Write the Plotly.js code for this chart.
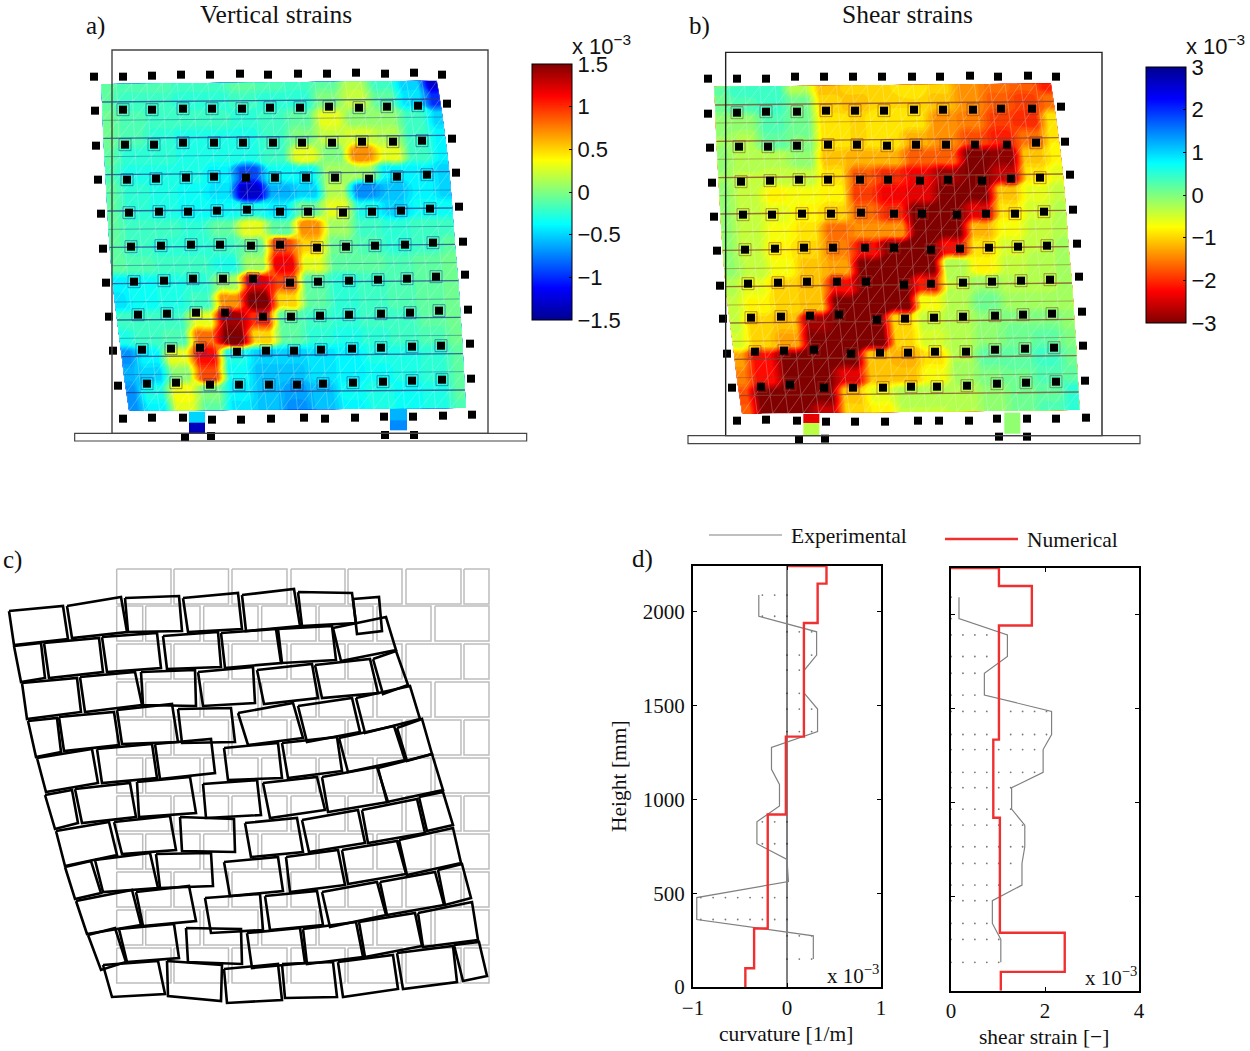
<!DOCTYPE html>
<html><head><meta charset="utf-8">
<script src="https://cdn.plot.ly/plotly-3.0.1.min.js"></script>
<style>html,body{margin:0;padding:0;background:#fff}#p{width:1250px;height:1051px}</style>
</head><body><div id="p"></div>
<script>
// ---------- strain fields (rows bottom-going, 13 nodes per row) ----------
const verticalStrain = [
[-0.1,-0.15,-0.15,-0.2,-0.2,-0.1,-0.15,-0.2,-0.1,0.15,-0.2,-0.5,-1.3],
[-0.1,-0.2,-0.2,-0.25,-0.25,-0.2,-0.25,-0.25,0,0.2,-0.1,-0.45,-1.0],
[-0.05,-0.15,-0.2,-0.2,-0.2,-0.25,-0.2,-0.1,0.3,0.05,0.05,-0.2,-0.5],
[-0.05,-0.15,-0.25,-0.3,-0.3,-0.3,-0.2,0.0,0.2,0.25,0.15,-0.2,-0.4],
[-0.1,-0.25,-0.25,-0.3,-0.3,-0.3,-0.2,0.3,0,0.7,0.3,-0.2,-0.4],
[-0.15,-0.3,-0.3,-0.3,-0.4,-0.9,-0.35,-0.35,0.1,0.1,-0.4,-0.4,-0.5],
[-0.1,-0.25,-0.3,-0.35,-0.45,-1.3,-0.6,-0.5,0.15,-0.7,-0.55,-0.4,-0.5],
[-0.1,-0.25,-0.3,-0.35,-0.35,-0.3,-0.4,-0.05,0.3,-0.3,-0.5,-0.35,-0.35],
[-0.1,-0.2,-0.2,-0.25,-0.1,0.3,-0.1,0.7,0.1,-0.2,-0.25,-0.2,-0.2],
[-0.1,-0.2,-0.25,-0.25,-0.2,-0.05,0.9,0.5,-0.05,-0.15,-0.25,-0.2,-0.1],
[-0.1,-0.15,-0.2,-0.2,-0.3,0.1,1.15,0.3,-0.1,-0.1,-0.15,-0.1,-0.05],
[-0.4,-0.35,-0.3,-0.25,0.1,1.2,0.9,-0.1,-0.25,-0.2,-0.15,-0.1,-0.05],
[-0.45,-0.35,-0.3,-0.2,0.7,1.5,0.5,-0.1,-0.25,-0.2,-0.15,-0.1,-0.05],
[-0.2,-0.2,-0.2,0.3,1.4,1.0,-0.1,-0.2,-0.25,-0.2,-0.2,-0.1,-0.05],
[-0.3,-0.2,-0.15,0.8,1.5,0.5,-0.1,-0.25,-0.3,-0.25,-0.2,-0.15,-0.05],
[-0.7,-0.4,0.3,1.1,-0.3,-0.5,-0.5,-0.45,-0.4,-0.3,-0.3,-0.25,-0.1],
[-0.6,-0.5,0.05,0.9,-0.35,-0.55,-0.55,-0.45,-0.4,-0.35,-0.3,-0.25,-0.1],
[-0.7,-0.3,0.35,0.0,-0.4,-0.55,-0.65,-0.55,-0.35,-0.3,-0.35,-0.3,-0.1],
[-0.7,-0.4,0.3,-0.1,-0.45,-0.55,-0.7,-0.55,-0.4,-0.3,-0.35,-0.3,-0.15]];
const shearStrain = [
[0.2,0.45,0.45,-0.3,-1.1,-1.0,-0.95,-0.85,-1.0,-1.4,-1.6,-1.7,-2.1],
[0.1,0.3,0.4,0.1,-1.0,-1.1,-0.95,-0.95,-1.1,-1.4,-1.7,-1.9,-1.6],
[-0.1,-0.1,0.3,0.1,-0.9,-0.95,-0.85,-0.9,-1.4,-1.5,-1.9,-2,-0.9],
[-0.15,-0.25,0.2,0.05,-0.9,-0.95,-0.85,-1.2,-1.4,-1.8,-2.1,-1.6,-0.85],
[-0.1,-0.3,-0.3,-0.1,-1.1,-1.2,-1.2,-1.7,-1.7,-3,-2.9,-1.1,-0.8],
[-0.15,-0.35,-0.4,-0.4,-0.9,-1.7,-2,-2.3,-2.8,-3,-2.6,-0.9,-0.6],
[-0.1,-0.4,-0.75,-0.7,-0.8,-1.9,-2.3,-2.4,-3,-3,-1.1,-0.6,-0.4],
[-0.1,-0.4,-0.6,-0.8,-1.0,-1.6,-2,-3,-3,-2.4,-0.9,-0.5,-0.3],
[-0.1,-0.4,-0.7,-0.9,-1.6,-1.4,-1.4,-3,-3,-1.2,-0.7,-0.4,-0.3],
[-0.1,-0.4,-0.8,-1.0,-1.5,-2.2,-3,-3,-2.2,-0.9,-0.5,-0.35,-0.2],
[-0.1,-0.35,-0.7,-1.1,-1.3,-3,-3,-3,-0.25,-0.8,-0.4,-0.3,-0.2],
[-0.3,-0.6,-1.0,-1.1,-2.2,-3,-3,-2.1,-0.35,-0.15,-0.3,-0.3,-0.2],
[-0.4,-0.75,-1.0,-1.1,-3,-3,-3,-0.7,-0.3,0.1,-0.2,-0.2,-0.2],
[-0.4,-1.0,-1.1,-2.8,-3,-3,-1.0,-0.4,-0.3,-0.1,0.05,0.05,-0.1],
[-0.5,-1.0,-1.3,-3,-3,-3,-1.0,-0.5,-0.3,-0.05,0.1,0.2,0],
[-1.3,-2.2,-3,-3,-3,-1.1,-1.2,-0.9,-0.25,0.2,0.2,0.4,0.1],
[-1.5,-2.2,-3,-3,-2.4,-1.1,-1.1,-0.7,-0.2,0.05,0.15,0.3,0.2],
[-1.8,-3,-3,-3,-1.1,-0.6,-0.3,-0.3,-0.3,-0.1,0.1,0.2,0.5],
[-1.7,-3,-3,-2.6,-1.0,-0.8,-0.35,-0.35,-0.3,-0.1,0.1,0.3,0.5]];

// wall outline of each strain map
const aLeftX=[93,96,98,100,103,106,109,112,115,119,123,128,134,141,148,155,161,169,177];
const aRightX=[1101,1110,1118,1125,1132,1138,1143,1147,1151,1155,1160,1165,1169,1172,1176,1179,1182,1185,1188];
const aLeftY=[132,186,241,295,350,404,459,513,568,622,677,731,786,840,895,950,1004,1058,1113];
const aRightY=[122,177,231,286,340,395,450,504,559,613,668,722,777,832,886,941,995,1050,1104];
const bLeftX=[87,90,92,94,97,100,103,106,109,113,117,122,128,135,142,149,155,163,171];
const bRightX=[1098,1106,1114,1121,1128,1134,1139,1143,1147,1151,1156,1161,1165,1168,1172,1175,1178,1181,1184];
const bLeftY=[140,195,249,304,358,413,467,522,576,631,686,740,795,849,904,958,1013,1067,1122];
const bRightY=[130,184,239,293,348,402,457,511,566,620,674,729,783,838,892,947,1001,1056,1110];

// black target markers
const aMarkX=[72,159,246,333,420,510,594,684,771,858,945,1032,1116, 75,159,246,339,426,516,600,690,777,867,951,1044,1131, 78,165,252,339,432,519,609,696,786,876,969,1056,1146, 84,171,258,348,432,528,615,708,795,897,981,1071,1158, 93,177,267,354,441,531,630,714,819,906,993,1080,1167, 99,183,273,363,450,543,630,741,828,915,1005,1089,1179, 108,192,282,369,459,549,660,744,837,924,1011,1098,1185, 117,204,291,378,465,579,663,750,837,933,1020,1107,1194, 129,216,303,390,501,588,672,753,846,933,1026,1113,1200, 144,231,318,420,507,597,681,759,849,939,1026,1116,1203, 159,246,339,426,513,603,702,765,855,942,1029,1119,1206, 345,423,945,1032];
const aMarkY=[110,110,107,104,104,101,104,101,101,98,101,98,104, 212,209,209,206,206,206,203,203,200,203,200,197,191, 317,314,314,308,308,308,308,308,308,305,305,302,296, 419,419,416,413,410,413,413,413,413,416,410,404,398, 521,518,515,515,512,509,515,515,518,515,512,506,500, 626,620,617,614,614,617,614,623,620,617,614,608,605, 728,725,722,716,716,716,728,725,722,719,716,710,704, 830,824,821,818,818,830,830,827,824,821,818,812,809, 932,929,926,923,935,932,932,929,926,923,920,917,911, 1037,1031,1028,1034,1034,1034,1034,1031,1028,1025,1022,1019,1016, 1136,1133,1133,1139,1139,1136,1133,1136,1133,1130,1130,1127,1124, 1191,1188,1185,1185];
const bMarkX=[69,156,243,330,417,504,591,681,765,855,939,1029,1113, 69,156,243,336,423,510,597,687,774,864,948,1041,1128, 75,162,249,336,429,516,606,693,783,870,966,1053,1140, 81,168,255,342,429,525,609,705,789,891,978,1065,1155, 87,174,261,351,438,528,627,711,816,903,990,1077,1164, 96,180,270,357,444,540,627,738,825,912,999,1086,1176, 105,189,279,366,456,543,657,738,834,921,1008,1095,1182, 114,198,288,375,462,576,660,747,834,930,1014,1101,1191, 126,210,297,387,498,585,669,750,843,930,1020,1107,1194, 141,228,315,417,504,594,678,756,846,936,1023,1113,1200, 156,243,336,423,510,600,699,762,852,936,1026,1113,1203, 342,420,942,1026];
const bMarkY=[116,116,116,110,110,110,110,110,110,107,110,107,110, 221,218,215,215,212,212,212,209,209,209,206,206,200, 323,320,320,317,314,314,317,314,314,314,314,308,305, 428,425,422,419,419,419,419,422,419,422,416,413,404, 530,524,524,521,521,518,521,521,524,521,521,515,509, 632,629,626,623,623,623,623,629,626,623,620,617,611, 737,731,728,725,725,725,734,731,728,725,722,719,710, 836,833,830,827,824,839,836,833,830,827,824,821,815, 941,935,932,929,941,938,938,935,935,929,926,923,917, 1043,1040,1034,1043,1043,1043,1040,1040,1037,1031,1028,1025,1022, 1142,1139,1142,1145,1145,1145,1142,1142,1142,1136,1136,1136,1133, 1199,1196,1190,1190];

// support stubs: x edges, y edges, strain
const aStubs=[{x:[357,405],y:[1115,1148,1180],z:[[-0.5],[-1.35]]},{x:[960,1010],y:[1105,1140,1172],z:[[-0.6],[-0.72]]}];
const bStubs=[{x:[355,402],y:[1122,1150,1185],z:[[-2.4],[-0.35]]},{x:[958,1006],y:[1118,1150,1180],z:[[-0.1],[-0.1]]}];

// panel c: undeformed courses
const grayRowTop=[569,606,644,682,720,758,796,834,872,910,948];
const grayOddX=[[116.7,171],[174,228.5],[232,287],[291,345],[348,402],[406,461],[464,489]];
const grayEvenX=[[116.7,142.7],[145.7,200],[203.7,258],[261.7,316],[319,373],[377,431],[435,489]];
const grayBrickH=35;
// panel c: deformed bricks, TLx,TLy,TRx,TRy,BRx,BRy,BLx,BLy
const course1=[[9,611,63,606,68,639,14,645],[67,606,121,597,127,632,72,638],[125,598,179,596,182,631,128,632],[183,598,238,593,242,629,188,632],[242,595,294,589,300,626,246,631],[298,592,352,593,356,623,302,626],[353,599,379,597,382,631,357,634]];
const course2=[[14,646,41,643,45,678,21,682],[44,643,99,638,103,672,49,678],[102,637,157,633,161,668,107,672],[163,636,218,632,221,667,167,669],[221,633,276,629,281,663,225,668],[278,629,332,626,336,660,282,663],[333,628,386,617,396,650,341,661]];
const course3=[[22,683,77,678,81,712,27,719],[80,677,135,672,142,705,85,712],[141,672,195,670,196,706,143,705],[198,672,253,667,255,703,203,706],[257,670,312,664,318,698,264,704],[315,665,370,659,378,693,322,698],[373,659,396,651,408,685,383,694]];
const course4=[[28,721,57,718,61,752,36,757],[59,717,114,712,119,745,64,751],[117,710,172,704,178,742,122,744],[178,709,231,708,235,742,182,743],[238,713,293,703,303,738,248,745],[298,706,352,698,360,732,307,742],[356,698,410,686,420,719,365,733]];
const course5=[[37,758,92,749,98,783,46,792],[97,749,152,744,157,778,102,783],[155,744,211,739,215,773,160,779],[224,748,278,743,282,778,228,780],[282,743,337,737,342,771,288,778],[339,738,394,726,405,760,348,772],[397,728,422,719,432,754,407,761]];
const course6=[[45,795,72,790,78,823,55,829],[75,789,130,783,136,817,82,823],[137,782,190,777,196,813,139,817],[203,784,257,780,261,815,206,818],[263,783,317,777,325,810,270,818],[322,777,377,767,388,802,328,812],[378,768,432,754,443,790,387,802]];
const course7=[[56,831,109,822,117,855,65,866],[114,822,170,816,176,850,122,854],[180,817,234,819,235,852,182,851],[245,823,297,818,303,852,251,857],[302,820,358,810,365,843,309,852],[362,810,417,799,425,833,368,843],[419,797,443,792,453,825,427,831]];
const course8=[[65,867,91,861,101,893,75,899],[95,860,150,853,158,888,103,892],[156,854,211,853,213,886,160,888],[224,862,278,857,283,891,230,896],[286,857,338,850,345,885,290,892],[342,850,397,841,406,874,348,884],[399,840,453,828,461,863,407,875]];
const course9=[[76,901,132,890,141,925,87,934],[136,892,189,886,196,921,143,926],[205,898,260,894,263,930,211,933],[265,896,317,891,323,925,270,930],[322,892,377,882,386,915,330,927],[380,882,435,872,444,905,387,915],[438,870,462,864,471,898,445,905]];
const course10=[[88,935,115,928,126,962,101,970],[119,929,174,924,179,958,127,962],[186,928,241,929,242,964,188,962],[247,933,300,928,305,963,252,968],[303,929,356,922,363,957,307,964],[359,922,415,913,422,946,365,957],[418,913,472,902,478,940,423,947]];
const course11=[[103,965,158,961,165,994,112,997],[167,961,222,965,221,1001,168,996],[224,969,278,964,282,1000,227,1003],[282,964,333,962,337,997,285,998],[338,962,393,955,398,989,343,997],[397,953,453,946,457,982,403,989],[454,945,479,942,487,976,463,981]];
const courses=[course1,course2,course3,course4,course5,course6,course7,course8,course9,course10,course11];

// panel d: curvature
const curvExpX=[-0.30,-0.30,0.315,0.315,0.185,0.185,0.325,0.325,-0.165,-0.165,-0.08,-0.08,-0.32,-0.32,0,0.015,-0.96,-0.96,0.28,0.28];
const curvExpH=[2090,1977,1894,1770,1690,1566,1482,1362,1277,1161,1080,965,881,764,680,562,477,360,273,149];
const curvNumX=[0,0.42,0.42,0.326,0.326,0.18,0.18,-0.012,-0.012,-0.205,-0.205,-0.35,-0.35,-0.443,-0.443];
const curvNumH=[2245,2245,2151,2151,1941,1941,1335,1335,920,920,312,312,100,100,0];
const curvDotH=[2090,1977,1894,1770,1690,1566,1482,1362,881,764,477,360,273,149];
const curvDotEnd=[-0.30,-0.30,0.315,0.315,0.185,0.185,0.325,0.325,-0.32,-0.32,-0.96,-0.96,0.28,0.28];
// panel d: shear
const shearExpX=[0.17,0.17,1.2,1.2,0.71,0.71,2.14,2.14,1.96,1.96,1.29,1.29,1.57,1.57,1.51,1.51,0.88,0.88,1.06,1.06];
const shearExpH=[2094,1980,1893,1778,1689,1573,1486,1363,1283,1162,1080,966,881,766,677,562,479,358,273,151];
const shearNumX=[0,1.02,1.02,1.72,1.72,1.02,1.02,0.9,0.9,1.04,1.04,2.42,2.42,1.06,1.06];
const shearNumH=[2249,2249,2153,2153,1943,1943,1336,1336,920,920,308,308,100,100,0];

const jet=[[0,'#00008f'],[0.125,'#0000ff'],[0.375,'#00ffff'],[0.625,'#ffff00'],[0.875,'#ff0000'],[1,'#800000']];
const jetRev=jet.map(p=>[1-p[0],p[1]]).reverse();
const W=1250,H=1051;
const serif='"Liberation Serif", serif', sans='"Liberation Sans", sans-serif';
const dx=p=>p/W, dy=p=>1-p/H;
const plateau=0.28; // half-width of the flat block round each node

const traces=[];
// each node holds its value over a small block, as the measured field does
function blockCoords(n){const c=[],src=[];for(let i=0;i<n;i++){
  if(i>0){c.push(i-plateau);src.push(i);}
  if(i<n-1){c.push(i+plateau);src.push(i);}else{c.push(i);src.push(i);}
  if(i===0){c.unshift(0);src.unshift(0);}
 }return {c,src};}
function strainMap(ax,ay,cid,Z,LX,RX,LY,RY,MX,MY,stubs,scale,zmax,size,cbX,cbY,tv,tt,jointCol){
  const ca=blockCoords(Z[0].length), cb=blockCoords(Z.length);
  const A=ca.c, B=cb.c;
  const fL=(arr,v)=>{const k=Math.min(Math.floor(v),arr.length-2),t=v-k;return arr[k]+(arr[k+1]-arr[k])*t;};
  const X=B.map(b=>A.map(a=>{const l=fL(LX,b),r=fL(RX,b);return l+(r-l)*a/12;}));
  const Y=B.map(b=>A.map(a=>{const l=fL(LY,b),r=fL(RY,b);return l+(r-l)*a/12;}));
  const ZZ=cb.src.map(j=>ca.src.map(i=>Z[j][i]));
  const blank={showgrid:false,showline:false,showticklabels:'none',startline:false,endline:false,minorgridcount:0,smoothing:0,tickmode:'linear',dtick:100};
  traces.push({type:'carpet',carpet:cid,a:A,b:B,x:X,y:Y,xaxis:ax,yaxis:ay,aaxis:blank,baxis:blank});
  traces.push({type:'contourcarpet',carpet:cid,a:A,b:B,z:ZZ,xaxis:ax,yaxis:ay,autocontour:false,
    contours:{start:-zmax+size/2,end:zmax-size/2,size:size,coloring:'fill',showlines:false},
    line:{width:0},colorscale:scale,zauto:false,zmin:-zmax,zmax:zmax,showscale:false,hoverinfo:'skip'});
  stubs.forEach((s,k)=>traces.push({type:'heatmap',x:s.x,y:s.y,z:s.z,xaxis:ax,yaxis:ay,colorscale:scale,zauto:false,zmin:-zmax,zmax:zmax,
    showscale:k===0,hoverinfo:'skip',
    colorbar:k===0?{x:dx(cbX),xanchor:'left',y:dy(cbY+256),yanchor:'bottom',thickness:40,thicknessmode:'pixels',len:256,lenmode:'pixels',xpad:0,ypad:0,
      outlinewidth:1,outlinecolor:'#000',ticks:'inside',ticklen:3,tickcolor:'#000',tickmode:'array',tickvals:tv,ticktext:tt,
      tickfont:{family:sans,size:22,color:'#111'}}:undefined}));
  // mesh lines
  const wx=[],wy=[],jx=[],jy=[],fx=[],fy=[];
  const pt=(j,t)=>[LX[j]+(RX[j]-LX[j])*t,LY[j]+(RY[j]-LY[j])*t];
  for(let j=0;j<18;j++)for(let i=0;i<=22;i++){
    const p=pt(j,i/22),q=pt(j+1,i/22);
    wx.push(p[0],q[0],null);wy.push(p[1],q[1],null);
    if(i<22){const r=pt(j,(i+1)/22);wx.push(q[0],r[0],null);wy.push(q[1],r[1],null);}
  }
  for(let j=1;j<18;j++){const p=pt(j,0),q=pt(j,1);
    if(j%2){jx.push(p[0],q[0],null);jy.push(p[1],q[1],null);}else{fx.push(p[0],q[0],null);fy.push(p[1],q[1],null);}}
  traces.push({type:'scatter',mode:'lines',x:wx,y:wy,xaxis:ax,yaxis:ay,line:{color:'rgba(255,255,255,0.4)',width:0.6},hoverinfo:'skip'});
  traces.push({type:'scatter',mode:'lines',x:fx,y:fy,xaxis:ax,yaxis:ay,line:{color:jointCol,width:0.8},opacity:0.5,hoverinfo:'skip'});
  traces.push({type:'scatter',mode:'lines',x:jx,y:jy,xaxis:ax,yaxis:ay,line:{color:jointCol,width:1.4},opacity:0.75,hoverinfo:'skip'});
  // small joint outline round the markers that sit on the wall
  const hx=[],hy=[];
  MX.forEach((v,k)=>{const row=Math.floor(k/13),col=k%13;if(row>=1&&row<=9&&col>=1&&col<=11){hx.push(v);hy.push(MY[k]);}});
  traces.push({type:'scatter',mode:'markers',x:hx,y:hy,xaxis:ax,yaxis:ay,marker:{symbol:'square-open',size:12,color:jointCol,opacity:0.55,line:{width:1,color:jointCol}},hoverinfo:'skip'});
  traces.push({type:'scatter',mode:'markers',x:MX,y:MY,xaxis:ax,yaxis:ay,marker:{symbol:'square',size:8,color:'#000',line:{width:0}},hoverinfo:'skip'});
}
strainMap('x','y','ca',verticalStrain,aLeftX,aRightX,aLeftY,aRightY,aMarkX,aMarkY,aStubs,jet,1.5,0.05,532,64,
  [-1.5,-1,-0.5,0,0.5,1,1.5],['\u22121.5','\u22121','\u22120.5','0','0.5','1','1.5'],'#2a3a90');
strainMap('x2','y2','cb',shearStrain,bLeftX,bRightX,bLeftY,bRightY,bMarkX,bMarkY,bStubs,jetRev,3,0.1,1146,67,
  [-3,-2,-1,0,1,2,3],['\u22123','\u22122','\u22121','0','1','2','3'],'#8a4030');

// panel c
const gx=[],gy=[];
grayRowTop.forEach((top,r)=>{(r%2?grayEvenX:grayOddX).forEach(b=>{
  gx.push(b[0],b[1],b[1],b[0],b[0],null);gy.push(top,top,top+grayBrickH,top+grayBrickH,top,null);});});
traces.push({type:'scatter',mode:'lines',x:gx,y:gy,xaxis:'x3',yaxis:'y3',line:{color:'#bdbdbd',width:1.5},hoverinfo:'skip'});
const kx=[],ky=[];
courses.forEach(c=>c.forEach(q=>{kx.push(q[0],q[2],q[4],q[6],q[0],null);ky.push(q[1],q[3],q[5],q[7],q[1],null);}));
traces.push({type:'scatter',mode:'lines',x:kx,y:ky,xaxis:'x3',yaxis:'y3',line:{color:'#000',width:2.6},hoverinfo:'skip'});

// panel d
function dots(hs,ends,step,ax,ay){const x=[],y=[];hs.forEach((h,k)=>{const e=ends[k],s=e<0?-step:step;
  for(let v=0;Math.abs(v)<Math.abs(e)-0.01;v+=s){x.push(v);y.push(h);}});
  traces.push({type:'scatter',mode:'markers',x,y,xaxis:ax,yaxis:ay,marker:{size:1.8,color:'#777'},hoverinfo:'skip',cliponaxis:false});}
dots(curvDotH,curvDotEnd,0.131,'x4','y4');
traces.push({type:'scatter',mode:'lines',x:[0,0],y:[0,2245],xaxis:'x4',yaxis:'y4',line:{color:'#000',width:1},hoverinfo:'skip'});
traces.push({type:'scatter',mode:'lines',x:curvExpX,y:curvExpH,xaxis:'x4',yaxis:'y4',line:{color:'#808080',width:1.2},hoverinfo:'skip'});
traces.push({type:'scatter',mode:'lines',x:curvNumX,y:curvNumH,xaxis:'x4',yaxis:'y4',line:{color:'#f03030',width:2.4},hoverinfo:'skip'});
dots(shearExpH,shearExpX,0.254,'x5','y5');
traces.push({type:'scatter',mode:'lines',x:shearExpX,y:shearExpH,xaxis:'x5',yaxis:'y5',line:{color:'#808080',width:1.2},hoverinfo:'skip'});
traces.push({type:'scatter',mode:'lines',x:shearNumX,y:shearNumH,xaxis:'x5',yaxis:'y5',line:{color:'#f03030',width:2.4},hoverinfo:'skip'});

const hidden=(d,r,anchor)=>({domain:d,range:r,visible:false,anchor:anchor,fixedrange:true});
function box(sh,xr,yr,x0,y0,x1,y1,col,w){sh.push({type:'rect',xref:xr,yref:yr,x0,y0,x1,y1,line:{color:col,width:w},layer:'above'});}
const shapes=[];
box(shapes,'x','y',126,30,1254,1180,'#444',1.4);
box(shapes,'x','y',14,1180,1370,1203,'#444',1.2);
box(shapes,'x2','y2',122,37,1251,1187,'#222',1.4);
box(shapes,'x2','y2',9,1187,1365,1211,'#444',1.2);
shapes.push({type:'line',xref:'paper',yref:'paper',x0:dx(709),x1:dx(782),y0:dy(535),y1:dy(535),line:{color:'#808080',width:1.2}});
shapes.push({type:'line',xref:'paper',yref:'paper',x0:dx(945),x1:dx(1018),y0:dy(539),y1:dy(539),line:{color:'#f03030',width:2.4}});

const ann=(text,x,y,size,family,anchor='left',extra={})=>Object.assign({text,x:dx(x),y:dy(y),xref:'paper',yref:'paper',showarrow:false,xanchor:anchor,yanchor:'middle',
  font:{family,size,color:'#111'}},extra);
const annotations=[
 ann('Vertical strains',276,15,25.5,serif,'center'),
 ann('Shear strains',907,15,25.5,serif,'center'),
 ann('a)',84,26,25,serif),ann('b)',687,26,25,serif),ann('c)',1,560,25,serif),ann('d)',630,559,25,serif),
 ann('x 10<sup>\u22123</sup>',570,45,22,sans),ann('x 10<sup>\u22123</sup>',1184,45,22,sans),
 ann('x 10<sup>\u22123</sup>',825,974,21,serif),ann('x 10<sup>\u22123</sup>',1083,976,21,serif),
 ann('Experimental',789,536,21.5,serif),ann('Numerical',1025,540,21.5,serif),
 ann('Height [mm]',619,776,21.5,serif,'center',{textangle:-90}),
 ann('curvature [1/m]',786,1034,21.5,serif,'center'),
 ann('shear strain [\u2212]',1044,1037,21.5,serif,'center')
];
const realAxis=(d,r,anchor,tv,tt,off)=>({domain:d,range:r,anchor,fixedrange:true,showgrid:false,zeroline:false,showline:true,linecolor:'#000',linewidth:2,mirror:'allticks',
  ticks:'inside',ticklen:4,tickcolor:'#000',tickwidth:1,tickmode:'array',tickvals:tv,ticktext:tt,ticklabelstandoff:off,tickfont:{family:serif,size:21,color:'#111'}});
const y5=realAxis([dy(990.7),dy(568)],[0,2249],'x5',[0,500,1000,1500,2000],['0','500','1000','1500','2000'],2);
y5.showticklabels=false;
const layout={width:W,height:H,margin:{l:0,r:0,t:0,b:0},paper_bgcolor:'#fff',plot_bgcolor:'rgba(0,0,0,0)',showlegend:false,shapes,annotations,
 xaxis:hidden([dx(60),dx(530)],[-30,1380],'y'),yaxis:hidden([dy(450),dy(40)],[1230,0],'x'),
 xaxis2:hidden([dx(680),dx(1145)],[-15,1380],'y2'),yaxis2:hidden([dy(450),dy(40)],[1230,0],'x2'),
 xaxis3:hidden([0,dx(500)],[0,500],'y3'),yaxis3:hidden([dy(1015),dy(560)],[1015,560],'x3'),
 xaxis4:realAxis([dx(693),dx(881)],[-1,1],'y4',[-1,0,1],['\u22121','0','1'],1),
 yaxis4:realAxis([dy(987),dy(566)],[0,2245],'x4',[0,500,1000,1500,2000],['0','500','1000','1500','2000'],2),
 xaxis5:realAxis([dx(951),dx(1139)],[0,4],'y5',[0,2,4],['0','2','4'],0),
 yaxis5:y5,
};
Plotly.newPlot('p',traces,layout,{displayModeBar:false,staticPlot:true});
</script></body></html>
